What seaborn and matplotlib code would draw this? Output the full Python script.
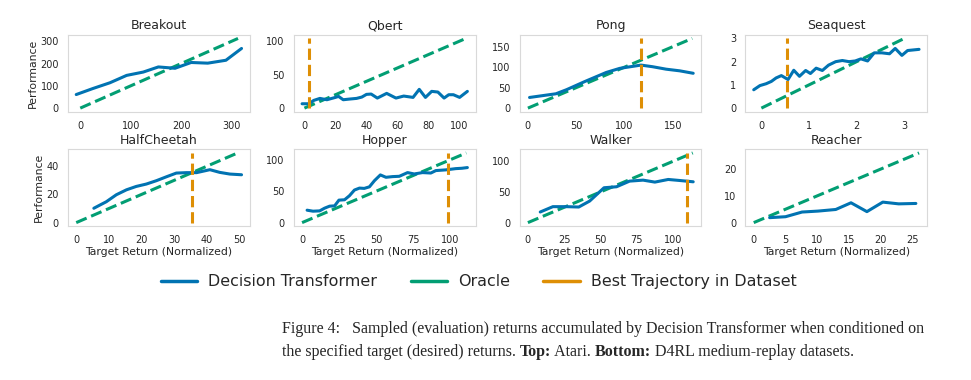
import matplotlib
matplotlib.use("Agg")
import matplotlib.pyplot as plt
from matplotlib.lines import Line2D
from matplotlib.ticker import MultipleLocator
import numpy as np
import pandas as pd
import seaborn as sns

# ---- data ----
envs = ["Breakout", "Qbert", "Pong", "Seaquest",
        "HalfCheetah", "Hopper", "Walker", "Reacher"]

breakout_x = [-8, 25, 59, 92, 125, 155, 188, 220, 253, 289, 320]
breakout_y = [61, 88, 114, 147, 162, 185, 179, 205, 202, 215, 268]

qbert_x = [-1.5, 3, 6, 10, 14.5, 20, 22, 25, 29, 33.6, 37, 40, 43, 47, 53,
           59, 64, 70, 74, 78, 82, 86, 90, 93, 96, 100, 105]
qbert_y = [6.5, 6.5, 11.5, 14.5, 12.5, 16, 17.5, 12.5, 13.5, 14.5, 16.5, 20.5,
           21, 15, 22, 15, 18, 16, 28, 16, 25, 24, 15, 20, 20, 16, 25]

pong_x = [1.7, 29, 40, 59, 69, 81, 95, 117, 129, 143, 157, 171]
pong_y = [26, 35, 45, 65, 75, 87, 97, 105, 101, 95, 91, 85]

seaquest_x = [-0.16, -0.03, 0.1, 0.21, 0.31, 0.42, 0.56, 0.68, 0.8, 0.93, 1.03,
              1.15, 1.28, 1.41, 1.56, 1.7, 1.84, 1.97, 2.09, 2.23, 2.37, 2.53,
              2.69, 2.81, 2.95, 3.07, 3.31]
seaquest_y = [0.79, 0.97, 1.05, 1.15, 1.3, 1.4, 1.23, 1.63, 1.37, 1.62, 1.49,
              1.72, 1.62, 1.85, 2.0, 2.05, 2.0, 2.03, 2.12, 2.03, 2.38, 2.38,
              2.34, 2.57, 2.27, 2.48, 2.53]

halfcheetah_x = [5.4, 7.2, 9.2, 12.3, 15.4, 18.4, 21.5, 24.6, 27.7, 30.7, 33.8,
                 36.9, 41, 44, 47.1, 50.7]
halfcheetah_y = [10.2, 12.4, 14.8, 19.8, 23.3, 25.7, 27.4, 29.8, 32.6, 35.2,
                 35.5, 35.5, 37.6, 35.7, 34.5, 34]

hopper_x = [3.4, 7.4, 11.9, 15.2, 18.6, 22, 24.9, 28.7, 32, 35.4, 38.8, 42,
            45.5, 48.9, 52.9, 56.7, 61.2, 65.7, 71.3, 75.8, 81.4, 87, 90.4, 97,
            103.8, 108, 111.7]
hopper_y = [19.8, 18.2, 18.7, 23, 26.2, 26.7, 35.8, 36.4, 42.8, 51.9, 55, 54.5,
            57, 66.8, 76, 72.2, 73.3, 73.8, 79.7, 77.5, 79.7, 79, 82.9, 84, 86,
            86.6, 87.7]

walker_x = [8.5, 17.2, 26.4, 35, 42.5, 52.4, 61, 70, 79.3, 87.4, 96.6, 104.6,
            113.8]
walker_y = [17.3, 26, 26, 25.4, 35.1, 56.8, 58.4, 67.6, 69.2, 66, 70.3, 68.6,
            66.5]

reacher_x = [2.5, 5, 7.6, 10.1, 12.9, 15.3, 17.8, 20.3, 22.8, 25.5]
reacher_y = [1.85, 2.2, 3.95, 4.3, 4.9, 7.4, 4.1, 7.65, 7.0, 7.15]

# oracle runs from 0 to this target return; None = best trajectory off-range
oracle_max = [313, 104, 170, 3.0, 49.5, 111, 113.5, 26]
best_traj = [None, 2.8, 117, 0.54, 35.6, 98.7, 109.4, None]

x_step = [100, 20, 50, 1, 10, 25, 25, 5]
y_step = [100, 50, 50, 1, 20, 50, 50, 10]

returns_x = [breakout_x, qbert_x, pong_x, seaquest_x,
             halfcheetah_x, hopper_x, walker_x, reacher_x]
returns_y = [breakout_y, qbert_y, pong_y, seaquest_y,
             halfcheetah_y, hopper_y, walker_y, reacher_y]

# ---- style ----
sns.set_style("whitegrid", {"axes.grid": False, "axes.edgecolor": ".85"})
pal = sns.color_palette("colorblind")
c_dt, c_oracle, c_best = pal[0], pal[2], pal[1]

fig, axes = plt.subplots(2, 4, figsize=(9.71, 3.8), dpi=100)
fig.subplots_adjust(left=0.070, right=0.955, top=0.908, bottom=0.405,
                    wspace=0.242, hspace=0.494)

for i, ax in enumerate(axes.flat):
    df = pd.DataFrame({"target": returns_x[i], "perf": returns_y[i]})
    oracle = pd.DataFrame({"target": [0, oracle_max[i]],
                           "perf": [0, oracle_max[i]]})
    sns.lineplot(data=oracle, x="target", y="perf", ax=ax, color=c_oracle,
                 lw=2.2, linestyle="--")
    sns.lineplot(data=df, x="target", y="perf", ax=ax, color=c_dt, lw=2.2)
    if best_traj[i] is not None:
        ax.vlines(best_traj[i], 0, oracle_max[i], color=c_best, lw=2.2,
                  linestyles="--")

    ax.set_title(envs[i], fontsize=9, pad=4)
    ax.xaxis.set_major_locator(MultipleLocator(x_step[i]))
    ax.yaxis.set_major_locator(MultipleLocator(y_step[i]))
    ax.tick_params(labelsize=7, pad=3)
    ax.set_xlabel("Target Return (Normalized)" if i >= 4 else "", fontsize=7.8,
                  labelpad=1)
    ax.set_ylabel("Performance" if i % 4 == 0 else "", fontsize=7.8,
                  labelpad=2)

handles = [Line2D([], [], color=c, lw=2.5) for c in (c_dt, c_oracle, c_best)]
fig.legend(handles, ["Decision Transformer", "Oracle", "Best Trajectory in Dataset"],
           loc="center", bbox_to_anchor=(0.493, 0.258), ncol=3, frameon=False,
           fontsize=11.4, handlelength=2.3, handletextpad=0.7, columnspacing=2.1)

# ---- caption ----
serif = "Liberation Serif"
fs = 11.5
fig.text(282 / 971, 1 - 333 / 380,
         "Figure 4:   Sampled (evaluation) returns accumulated by Decision "
         "Transformer when conditioned on",
         family=serif, fontsize=fs, va="baseline", ha="left")

pieces = [("the specified target (desired) returns. ", "normal"),
          ("Top:", "bold"), (" Atari. ", "normal"), ("Bottom:", "bold"),
          (" D4RL medium-replay datasets.", "normal")]
prev = fig.text(282 / 971, 1 - 356 / 380, pieces[0][0], family=serif,
                fontsize=fs, va="baseline", ha="left")
for txt, weight in pieces[1:]:
    prev = axes[0, 0].annotate(txt, xy=(1, 0), xycoords=prev, va="bottom",
                               ha="left", family=serif, fontsize=fs,
                               fontweight=weight, annotation_clip=False)

fig.savefig("out.png", dpi=100)
